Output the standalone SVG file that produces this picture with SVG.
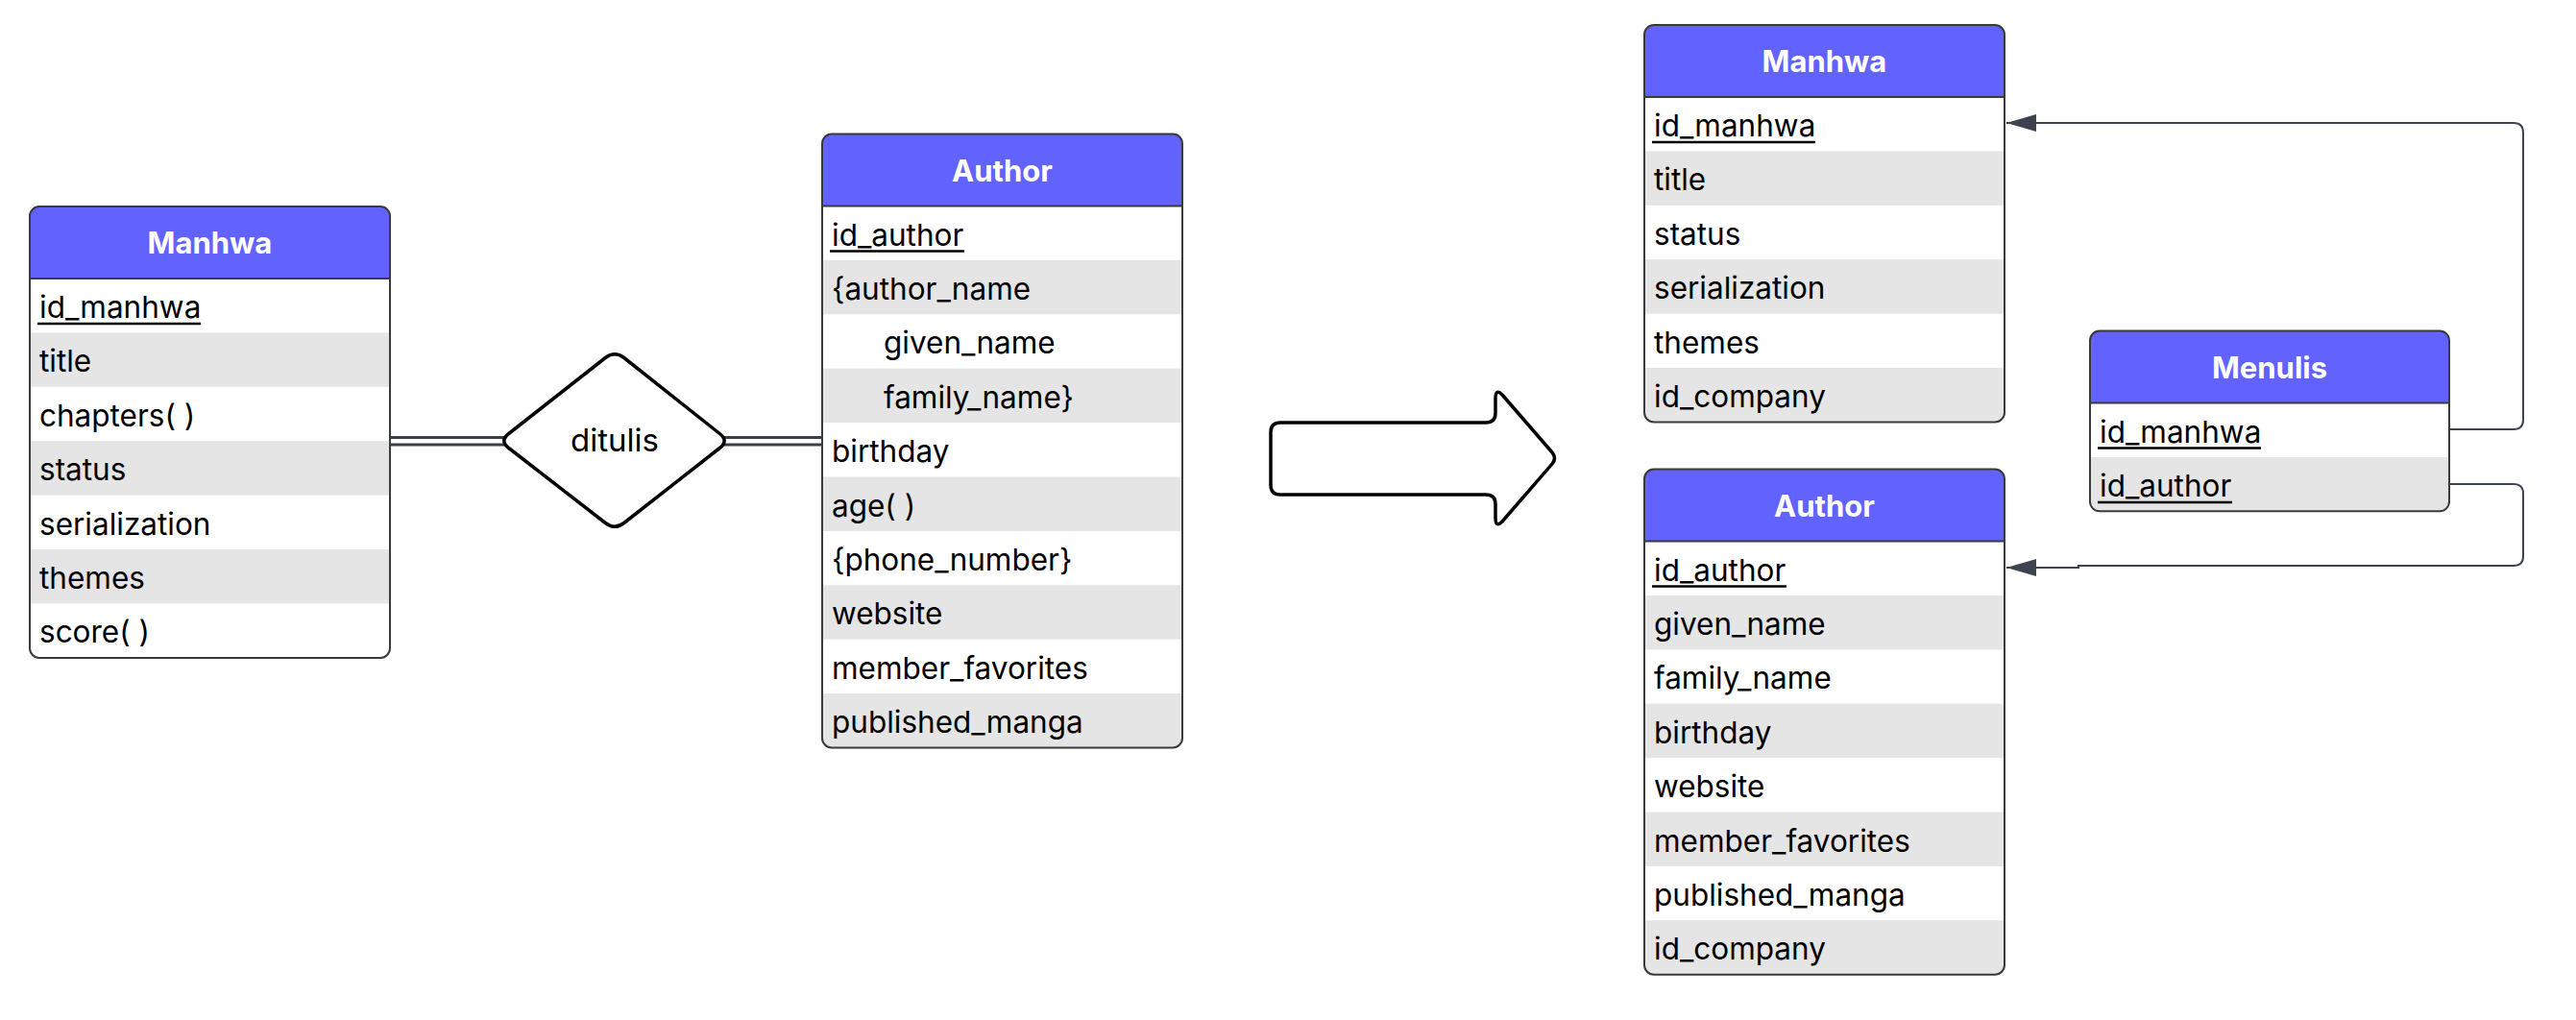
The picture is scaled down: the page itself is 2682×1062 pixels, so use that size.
<svg xmlns="http://www.w3.org/2000/svg" width="2682" height="1062" viewBox="0 0 2682 1062">
<style>
.bg{fill:#ffffff}
.hd{fill:#6262ff}
.gr{fill:#e5e5e5}
.ol{fill:none;stroke:#3a3a3a;stroke-width:2}
.sep{stroke:#3a3a3a;stroke-width:2}
.ht{font-family:Inter,"Liberation Sans",sans-serif;font-size:31px;font-weight:700;fill:#ffffff;text-anchor:middle}
.t{font-family:Inter,"Liberation Sans",sans-serif;font-size:31.5px;fill:#000000}
.dt{font-family:Inter,"Liberation Sans",sans-serif;font-size:33px;fill:#000000;text-anchor:middle}
.ul{stroke:#000000;stroke-width:2.5}
.conn{fill:none;stroke:#3d4450;stroke-width:2}
.dbl{fill:none;stroke:#3a404b;stroke-width:3}
.shape{fill:#ffffff;stroke:#000000;stroke-width:3.5;stroke-linejoin:round}
</style>
<defs>
<marker id="arr" markerUnits="userSpaceOnUse" markerWidth="34" markerHeight="22" refX="31" refY="11" orient="auto">
<path d="M0,2 L31,11 L0,20 Z" fill="#3d4450"/>
</marker>
</defs>
<rect width="2682" height="1062" fill="#ffffff"/>

<g id="connectors">
<path class="dbl" d="M406,455.5 H530 M406,463 H530"/>
<path class="dbl" d="M750,455.5 H856 M750,463 H856"/>
<path class="conn" d="M2550,447 H2617 Q2627,447 2627,437 V138 Q2627,128 2617,128 H2089" marker-end="url(#arr)"/>
<path class="conn" d="M2550,504 H2617 Q2627,504 2627,514 V579 Q2627,589 2617,589 H2164 V591 H2089" marker-end="url(#arr)"/>
</g>

<g id="er-manhwa" transform="translate(31,215)">
<rect class="bg" x="0" y="0" width="375" height="470" rx="10"/>
<path class="hd" d="M0,75 V10 A10,10 0 0 1 10,0 H365 A10,10 0 0 1 375,10 V75 Z"/>
<rect class="gr" x="0" y="131.4" width="375" height="56.4"/>
<rect class="gr" x="0" y="244.2" width="375" height="56.4"/>
<rect class="gr" x="0" y="357" width="375" height="56.4"/>
<line class="sep" x1="0" y1="75" x2="375" y2="75"/>
<rect class="ol" x="0" y="0" width="375" height="470" rx="10"/>
<text class="ht" x="187.5" y="49">Manhwa</text>
<text class="t" x="10" y="116">id_manhwa</text>
<line class="ul" x1="8" y1="122" x2="178" y2="122"/>
<text class="t" x="10" y="172.4">title</text>
<text class="t" x="10" y="228.8">chapters( )</text>
<text class="t" x="10" y="285.2">status</text>
<text class="t" x="10" y="341.6">serialization</text>
<text class="t" x="10" y="398">themes</text>
<text class="t" x="10" y="454.4">score( )</text>
</g>

<g id="er-ditulis">
<path class="shape" d="M630.3,372.5 Q640,365 649.7,372.5 L749.3,451.5 Q759,459 749.3,466.5 L649.7,544.5 Q640,552 630.3,544.5 L529.7,466.5 Q520,459 529.7,451.5 Z"/>
<text class="dt" x="640" y="470">ditulis</text>
</g>

<g id="er-author" transform="translate(856,139.5)">
<rect class="bg" x="0" y="0" width="375" height="639" rx="10"/>
<path class="hd" d="M0,75 V10 A10,10 0 0 1 10,0 H365 A10,10 0 0 1 375,10 V75 Z"/>
<rect class="gr" x="0" y="131.4" width="375" height="56.4"/>
<rect class="gr" x="0" y="244.2" width="375" height="56.4"/>
<rect class="gr" x="0" y="357" width="375" height="56.4"/>
<rect class="gr" x="0" y="469.8" width="375" height="56.4"/>
<path class="gr" d="M0,582.6 H375 V629 A10,10 0 0 1 365,639 H10 A10,10 0 0 1 0,629 Z"/>
<line class="sep" x1="0" y1="75" x2="375" y2="75"/>
<rect class="ol" x="0" y="0" width="375" height="639" rx="10"/>
<text class="ht" x="187.5" y="49">Author</text>
<text class="t" x="10" y="116">id_author</text>
<line class="ul" x1="8" y1="122" x2="148" y2="122"/>
<text class="t" x="10" y="172.4">{author_name</text>
<text class="t" x="64" y="228.8">given_name</text>
<text class="t" x="64" y="285.2">family_name}</text>
<text class="t" x="10" y="341.6">birthday</text>
<text class="t" x="10" y="398">age( )</text>
<text class="t" x="10" y="454.4">{phone_number}</text>
<text class="t" x="10" y="510.8">website</text>
<text class="t" x="10" y="567.2">member_favorites</text>
<text class="t" x="10" y="623.6">published_manga</text>
</g>

<g id="transform-arrow">
<path class="shape" d="M1333,440 H1547 Q1557,440 1557,430 V415 Q1557,404 1564,411 L1616,471 Q1621,477 1616,483 L1564,543 Q1557,550 1557,539 V525 Q1557,515 1547,515 H1333 Q1323,515 1323,505 V450 Q1323,440 1333,440 Z"/>
</g>

<g id="rel-manhwa" transform="translate(1712,26)">
<rect class="bg" x="0" y="0" width="375" height="413.4" rx="10"/>
<path class="hd" d="M0,75 V10 A10,10 0 0 1 10,0 H365 A10,10 0 0 1 375,10 V75 Z"/>
<rect class="gr" x="0" y="131.4" width="375" height="56.4"/>
<rect class="gr" x="0" y="244.2" width="375" height="56.4"/>
<path class="gr" d="M0,357 H375 V403.4 A10,10 0 0 1 365,413.4 H10 A10,10 0 0 1 0,403.4 Z"/>
<line class="sep" x1="0" y1="75" x2="375" y2="75"/>
<rect class="ol" x="0" y="0" width="375" height="413.4" rx="10"/>
<text class="ht" x="187.5" y="49">Manhwa</text>
<text class="t" x="10" y="116">id_manhwa</text>
<line class="ul" x1="8" y1="122" x2="178" y2="122"/>
<text class="t" x="10" y="172.4">title</text>
<text class="t" x="10" y="228.8">status</text>
<text class="t" x="10" y="285.2">serialization</text>
<text class="t" x="10" y="341.6">themes</text>
<text class="t" x="10" y="398">id_company</text>
</g>

<g id="rel-author" transform="translate(1712,488.5)">
<rect class="bg" x="0" y="0" width="375" height="526.2" rx="10"/>
<path class="hd" d="M0,75 V10 A10,10 0 0 1 10,0 H365 A10,10 0 0 1 375,10 V75 Z"/>
<rect class="gr" x="0" y="131.4" width="375" height="56.4"/>
<rect class="gr" x="0" y="244.2" width="375" height="56.4"/>
<rect class="gr" x="0" y="357" width="375" height="56.4"/>
<path class="gr" d="M0,469.8 H375 V516.2 A10,10 0 0 1 365,526.2 H10 A10,10 0 0 1 0,516.2 Z"/>
<line class="sep" x1="0" y1="75" x2="375" y2="75"/>
<rect class="ol" x="0" y="0" width="375" height="526.2" rx="10"/>
<text class="ht" x="187.5" y="49">Author</text>
<text class="t" x="10" y="116">id_author</text>
<line class="ul" x1="8" y1="122" x2="148" y2="122"/>
<text class="t" x="10" y="172.4">given_name</text>
<text class="t" x="10" y="228.8">family_name</text>
<text class="t" x="10" y="285.2">birthday</text>
<text class="t" x="10" y="341.6">website</text>
<text class="t" x="10" y="398">member_favorites</text>
<text class="t" x="10" y="454.4">published_manga</text>
<text class="t" x="10" y="510.8">id_company</text>
</g>

<g id="rel-menulis" transform="translate(2176,344.5)">
<rect class="bg" x="0" y="0" width="374" height="187.8" rx="10"/>
<path class="hd" d="M0,75 V10 A10,10 0 0 1 10,0 H364 A10,10 0 0 1 374,10 V75 Z"/>
<path class="gr" d="M0,131.4 H374 V177.8 A10,10 0 0 1 364,187.8 H10 A10,10 0 0 1 0,177.8 Z"/>
<line class="sep" x1="0" y1="75" x2="374" y2="75"/>
<rect class="ol" x="0" y="0" width="374" height="187.8" rx="10"/>
<text class="ht" x="187" y="49">Menulis</text>
<text class="t" x="10" y="116">id_manhwa</text>
<line class="ul" x1="8" y1="122" x2="178" y2="122"/>
<text class="t" x="10" y="172.4">id_author</text>
<line class="ul" x1="8" y1="178.4" x2="148" y2="178.4"/>
</g>
</svg>
